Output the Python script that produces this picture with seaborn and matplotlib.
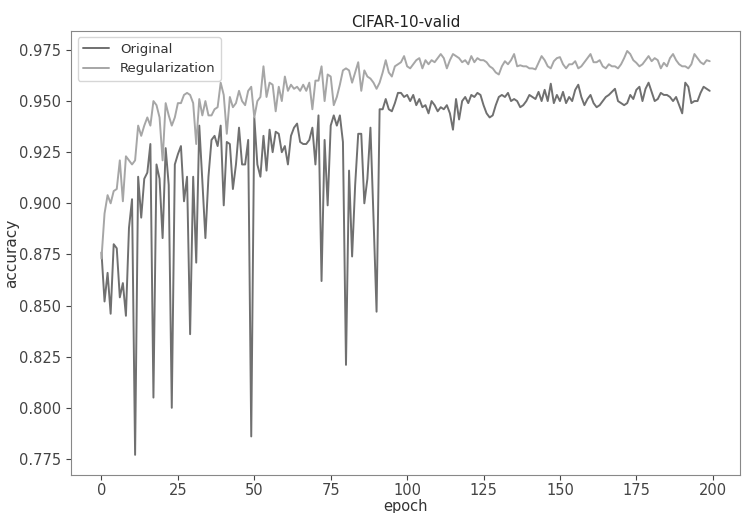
import matplotlib
matplotlib.use('Agg')
import matplotlib.pyplot as plt
import seaborn as sns
import pandas as pd
import numpy as np

# validation accuracy per epoch
original = [
    0.876, 0.852, 0.866, 0.846, 0.880, 0.878, 0.854, 0.861, 0.845, 0.888,
    0.902, 0.777, 0.913, 0.893, 0.912, 0.915, 0.929, 0.805, 0.919, 0.912,
    0.883, 0.927, 0.909, 0.800, 0.919, 0.924, 0.928, 0.901, 0.913, 0.836,
    0.913, 0.871, 0.938, 0.911, 0.883, 0.913, 0.931, 0.933, 0.928, 0.938,
    0.899, 0.930, 0.929, 0.907, 0.919, 0.937,
    0.919, 0.919, 0.931, 0.786, 0.942, 0.919, 0.913, 0.933, 0.916, 0.936,
    0.925, 0.935, 0.934, 0.925, 0.928, 0.919, 0.933, 0.937, 0.939, 0.930,
    0.929, 0.929, 0.931, 0.937, 0.919, 0.943, 0.862, 0.931, 0.899, 0.938,
    0.943, 0.938, 0.943, 0.930, 0.821, 0.916, 0.874, 0.909, 0.934, 0.934,
    0.900, 0.912, 0.937, 0.893, 0.847,
    0.946, 0.946, 0.951, 0.946, 0.945, 0.949, 0.954, 0.954,
    0.952, 0.953, 0.950, 0.953, 0.948, 0.951, 0.947, 0.948, 0.944, 0.950,
    0.948, 0.945, 0.947, 0.946, 0.948, 0.944, 0.936, 0.951, 0.941, 0.950,
    0.952, 0.949, 0.953, 0.952, 0.954, 0.953, 0.948, 0.944, 0.942, 0.943,
    0.948, 0.952, 0.953,
    0.952, 0.954, 0.950, 0.951, 0.950, 0.947, 0.948, 0.950, 0.953, 0.952,
    0.951, 0.9545, 0.950, 0.9555, 0.950, 0.9585, 0.949, 0.953, 0.950, 0.9545,
    0.949, 0.952, 0.950, 0.9555, 0.958, 0.952, 0.948, 0.951, 0.953, 0.949,
    0.947, 0.948, 0.950, 0.952, 0.953, 0.9545,
    0.956, 0.950, 0.949, 0.948, 0.949, 0.953, 0.951, 0.9555, 0.957, 0.950,
    0.956, 0.959, 0.9545, 0.950, 0.951, 0.954, 0.953, 0.953, 0.952, 0.950,
    0.952, 0.948, 0.944, 0.959, 0.957, 0.949, 0.950, 0.950, 0.954, 0.957,
    0.956, 0.955,
]

regularization = [
    0.873, 0.895, 0.904, 0.900, 0.906, 0.907, 0.921, 0.901, 0.923, 0.921,
    0.919, 0.921, 0.938, 0.933, 0.938, 0.942, 0.938, 0.950, 0.948, 0.942,
    0.921, 0.949, 0.943, 0.938, 0.942, 0.949, 0.949, 0.953, 0.954, 0.953,
    0.949, 0.929, 0.951, 0.943, 0.950, 0.943, 0.943, 0.946, 0.947, 0.959,
    0.953, 0.934, 0.952, 0.947, 0.949, 0.955,
    0.950, 0.948, 0.955, 0.957, 0.942, 0.950, 0.952, 0.967, 0.952, 0.959,
    0.958, 0.945, 0.957, 0.950, 0.962, 0.955, 0.958, 0.956,
    0.957, 0.955, 0.958, 0.955, 0.959, 0.946, 0.960, 0.960, 0.967, 0.950,
    0.963, 0.962, 0.948, 0.952, 0.958, 0.965, 0.966, 0.965, 0.959, 0.964,
    0.969, 0.955, 0.965, 0.962, 0.961, 0.959, 0.956, 0.959, 0.964, 0.970,
    0.964, 0.962, 0.967, 0.968, 0.969,
    0.972, 0.967, 0.966, 0.968, 0.970, 0.971, 0.966, 0.970, 0.968, 0.970,
    0.969, 0.971, 0.973, 0.971, 0.966, 0.970, 0.973, 0.972, 0.971, 0.969,
    0.970, 0.968, 0.972, 0.969, 0.971, 0.970, 0.970, 0.969, 0.967, 0.966,
    0.964, 0.963,
    0.967, 0.9695, 0.968, 0.970, 0.973, 0.967, 0.9675, 0.967, 0.967, 0.966,
    0.966, 0.9655, 0.9687, 0.972, 0.970, 0.967, 0.966, 0.9695, 0.971, 0.9715,
    0.968, 0.966, 0.968, 0.968, 0.9695, 0.966, 0.967, 0.969, 0.971, 0.973,
    0.969, 0.969, 0.970, 0.967, 0.966, 0.968, 0.967,
    0.967, 0.966, 0.968, 0.971, 0.9745, 0.973, 0.970, 0.9687, 0.967, 0.968,
    0.970, 0.972, 0.9695, 0.971, 0.970, 0.966, 0.9687, 0.967, 0.971, 0.973,
    0.970, 0.968, 0.967, 0.967, 0.966, 0.968, 0.973, 0.971, 0.969, 0.968,
    0.970, 0.9695,
]

epochs = list(range(len(original)))
series_names = ['Original', 'Regularization']

df = pd.concat([
    pd.DataFrame({'epoch': epochs, 'accuracy': original, 'model': series_names[0]}),
    pd.DataFrame({'epoch': epochs, 'accuracy': regularization, 'model': series_names[1]}),
])

sns.set_style('ticks')
plt.rcParams['font.family'] = ['DejaVu Sans']

fig, ax = plt.subplots(figsize=(7.56, 5.13), dpi=100)
fig.subplots_adjust(left=0.094, right=0.979, top=0.94, bottom=0.074)

sns.lineplot(data=df, x='epoch', y='accuracy', hue='model',
             palette=['#707070', '#a6a6a6'], linewidth=1.4, ax=ax)

ax.set_title('CIFAR-10-valid', fontsize=11, pad=3, color='#222222')
ax.set_xlabel('epoch', fontsize=10.5, color='#333333', labelpad=1)
ax.set_ylabel('accuracy', fontsize=11, color='#333333')
ax.yaxis.set_label_coords(-0.078, 0.5)
ax.set_xticks(np.arange(0, 201, 25))
ax.set_yticks(np.arange(0.775, 0.976, 0.025))
ax.yaxis.set_major_formatter(matplotlib.ticker.FormatStrFormatter('%.3f'))
ax.tick_params(labelsize=10.5, colors='#444444')
ax.tick_params(axis='x', pad=2)
for s in ax.spines.values():
    s.set_color('#888888')

leg = ax.legend(loc='upper left', fontsize=9.5, title=None)
for t in leg.get_texts():
    t.set_color('#333333')

plt.savefig('out.png', dpi=100)
plt.close()
